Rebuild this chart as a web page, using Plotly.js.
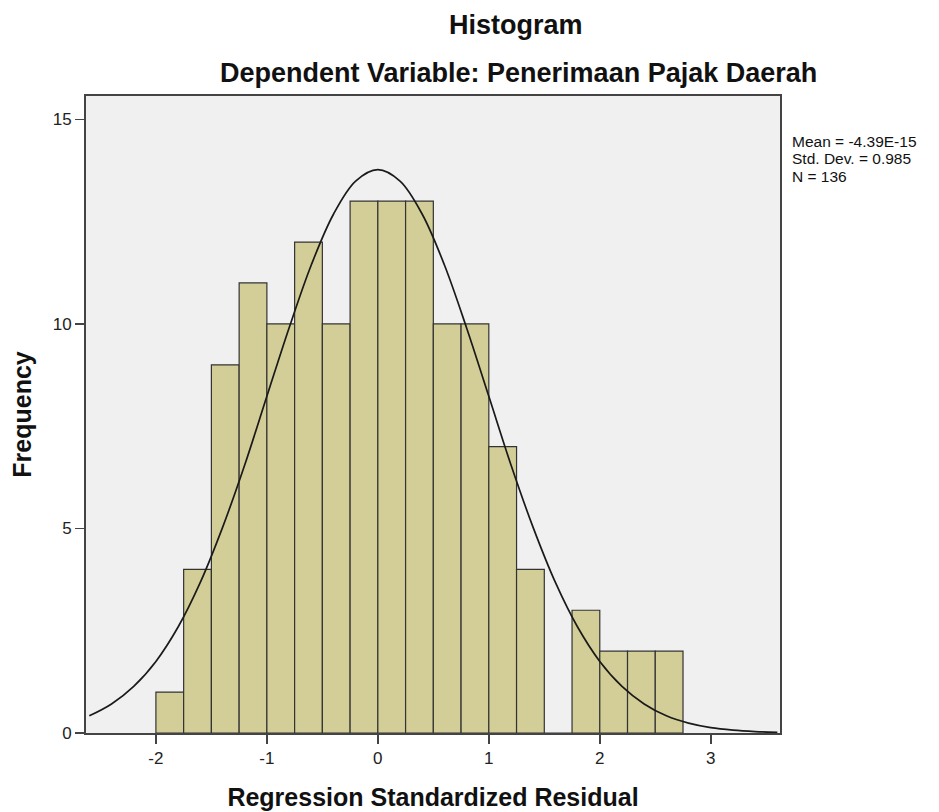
<!DOCTYPE html>
<html>
<head>
<meta charset="utf-8">
<script src="https://cdn.plot.ly/plotly-3.0.1.min.js"></script>
<style>html,body{margin:0;padding:0;background:#fff;}#chart{width:939px;height:812px;}</style>
</head>
<body>
<div id="chart"></div>
<script>
// Histogram bins (centres) and frequencies
const binCenters = [-1.875, -1.625, -1.375, -1.125, -0.875, -0.625, -0.375, -0.125, 0.125, 0.375, 0.625, 0.875, 1.125, 1.375, 1.625, 1.875, 2.125, 2.375, 2.625];
const frequencies = [1, 4, 9, 11, 10, 12, 10, 13, 13, 13, 10, 10, 7, 4, 0, 3, 2, 2, 2];

// Normal curve
const curveX = [-2.6, -2.4, -2.2, -2.0, -1.8, -1.6, -1.4, -1.2, -1.0, -0.8, -0.6, -0.4, -0.2, 0.0, 0.2, 0.4, 0.6, 0.8, 1.0, 1.2, 1.4, 1.6, 1.8, 2.0, 2.2, 2.4, 2.6, 2.8, 3.0, 3.2, 3.4, 3.6];
const curveY = [0.42, 0.71, 1.14, 1.75, 2.59, 3.68, 5.02, 6.55, 8.23, 9.90, 11.44, 12.68, 13.49, 13.77, 13.49, 12.68, 11.44, 9.90, 8.23, 6.55, 5.02, 3.68, 2.59, 1.75, 1.14, 0.71, 0.42, 0.24, 0.13, 0.07, 0.036, 0.017];

const xTicks = [-2, -1, 0, 1, 2, 3];
const yTicks = [0, 5, 10, 15];
const statsLines = ["Mean = -4.39E-15", "Std. Dev. = 0.985", "N = 136"];
const titleText = "Histogram";
const subtitleText = "Dependent Variable: Penerimaan Pajak Daerah";
const xTitle = "Regression Standardized Residual";
const yTitle = "Frequency";

const FONT = "Liberation Sans, Arial, sans-serif";

const traces = [
  {
    type: "bar",
    x: binCenters,
    y: frequencies,
    width: 0.25,
    marker: {color: "#d3ce97", line: {color: "#333333", width: 1.2}},
    hoverinfo: "x+y",
    showlegend: false
  },
  {
    type: "scatter",
    mode: "lines",
    x: curveX,
    y: curveY,
    line: {color: "#1a1a1a", width: 1.7, shape: "spline"},
    hoverinfo: "skip",
    showlegend: false
  }
];

// paper-y positions of the three statistics lines (pixel rows 141.5, 159, 176.5)
const statsY = [0.9286, 0.9011, 0.8736];
const statsAnnotations = statsLines.map((t, i) => ({
  xref: "paper", yref: "paper",
  x: 1.0165, y: statsY[i],
  xanchor: "left", yanchor: "middle",
  align: "left",
  borderpad: 0,
  text: t,
  showarrow: false,
  font: {size: 15.5, family: FONT, color: "#111"}
}));

const layout = {
  width: 939,
  height: 812,
  margin: {l: 86, r: 159, t: 96, b: 79},
  paper_bgcolor: "#ffffff",
  plot_bgcolor: "#f0f0f0",
  font: {family: FONT, color: "#222"},
  bargap: 0,
  showlegend: false,
  xaxis: {
    range: [-2.63, 3.624],
    tickvals: xTicks,
    ticktext: xTicks.map(String),
    ticks: "outside",
    ticklen: 9,
    tickwidth: 1.5,
    tickcolor: "#444",
    tickfont: {size: 17, family: FONT, color: "#222"},
    showgrid: false,
    zeroline: false,
    showline: true,
    linecolor: "#444",
    linewidth: 2,
    mirror: true,
    title: {text: xTitle, font: {size: 25, family: FONT, color: "#111", weight: "bold"}, standoff: 21}
  },
  yaxis: {
    range: [0, 15.57],
    tickvals: yTicks,
    ticktext: yTicks.map(String),
    ticks: "outside",
    ticklen: 9,
    tickwidth: 1.5,
    tickcolor: "#444",
    tickfont: {size: 17, family: FONT, color: "#222"},
    showgrid: false,
    zeroline: false,
    showline: true,
    linecolor: "#444",
    linewidth: 2,
    mirror: true,
    title: {text: yTitle, font: {size: 25, family: FONT, color: "#111", weight: "bold"}, standoff: 14}
  },
  annotations: [
    {
      xref: "paper", yref: "paper",
      x: 0.6196, y: 1.1115,
      xanchor: "center", yanchor: "middle",
      text: "<b>" + titleText + "</b>",
      showarrow: false,
      font: {size: 27, family: FONT, color: "#111"}
    },
    {
      xref: "paper", yref: "paper",
      x: 0.6225, y: 1.036,
      xanchor: "center", yanchor: "middle",
      text: "<b>" + subtitleText + "</b>",
      showarrow: false,
      font: {size: 27, family: FONT, color: "#111"}
    }
  ].concat(statsAnnotations)
};

Plotly.newPlot("chart", traces, layout, {displayModeBar: false, staticPlot: true});
</script>
</body>
</html>
